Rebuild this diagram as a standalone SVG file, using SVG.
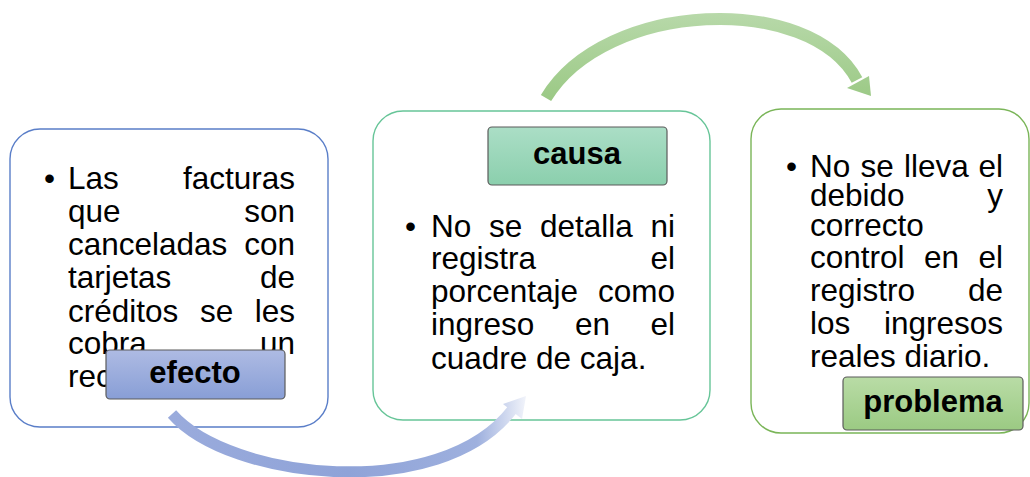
<svg xmlns="http://www.w3.org/2000/svg" width="1030" height="477" viewBox="0 0 1030 477">
<defs>
<linearGradient id="gBlue" x1="0" y1="0" x2="0" y2="1"><stop offset="0" stop-color="#aebbe3"/><stop offset="1" stop-color="#889ed6"/></linearGradient>
<linearGradient id="gTeal" x1="0" y1="0" x2="0" y2="1"><stop offset="0" stop-color="#abdec6"/><stop offset="1" stop-color="#8bcfad"/></linearGradient>
<linearGradient id="gGreen" x1="0" y1="0" x2="0" y2="1"><stop offset="0" stop-color="#b9dca6"/><stop offset="1" stop-color="#9bca83"/></linearGradient>
<linearGradient id="aGreen" gradientUnits="userSpaceOnUse" x1="0" y1="12" x2="0" y2="100"><stop offset="0" stop-color="#b8d9aa"/><stop offset="1" stop-color="#9bc985"/></linearGradient>
<linearGradient id="aBlue" gradientUnits="userSpaceOnUse" x1="170" y1="0" x2="527" y2="0"><stop offset="0" stop-color="#9aabdc"/><stop offset="0.5" stop-color="#8fa3d8"/><stop offset="0.86" stop-color="#9eb0de"/><stop offset="1" stop-color="#f3f5fb"/></linearGradient>
</defs>
<style>
.box{fill:#ffffff;stroke-width:1.4}
.t{font-family:"Liberation Sans",Arial,sans-serif;font-size:31.5px;fill:#000}
.e{text-anchor:end}
.lab{stroke:#5b5b5b;stroke-width:1.2}
.lt{font-family:"Liberation Sans",Arial,sans-serif;font-size:31px;font-weight:bold;fill:#000;text-anchor:middle}
</style>

<g id="efecto">
<rect class="box" x="10" y="129" width="318" height="298" rx="30" stroke="#5a7ec8"/>
<text class="t" x="44" y="189">•</text>
<text class="t" x="68" y="189">Las</text><text class="t e" x="295" y="189">facturas</text>
<text class="t" x="68" y="222">que</text><text class="t e" x="295" y="222">son</text>
<text class="t" x="68" y="254.5">canceladas</text><text class="t e" x="295" y="254.5">con</text>
<text class="t" x="68" y="288">tarjetas</text><text class="t e" x="295" y="288">de</text>
<text class="t" x="68" y="322">créditos</text><text class="t" x="200" y="322">se</text><text class="t e" x="295" y="322">les</text>
<text class="t" x="68" y="354">cobra</text><text class="t e" x="295" y="354">un</text>
<text class="t" x="68" y="387">rec</text>
<rect class="lab" x="106" y="350" width="179" height="49" rx="4" fill="url(#gBlue)"/>
<text class="lt" x="195" y="383">efecto</text>
</g>

<g id="causa">
<rect class="box" x="373" y="111" width="337" height="309" rx="30" stroke="#67c598"/>
<rect class="lab" x="488" y="127" width="179" height="58" rx="4" fill="url(#gTeal)"/>
<text class="lt" x="577" y="164">causa</text>
<text class="t" x="405" y="237">•</text>
<text class="t" x="431" y="237">No</text><text class="t" x="489" y="237">se</text><text class="t" x="540" y="237">detalla</text><text class="t e" x="675" y="237">ni</text>
<text class="t" x="431" y="268.5">registra</text><text class="t e" x="675" y="268.5">el</text>
<text class="t" x="431" y="302">porcentaje</text><text class="t e" x="675" y="302">como</text>
<text class="t" x="431" y="335">ingreso</text><text class="t" x="575" y="335">en</text><text class="t e" x="675" y="335">el</text>
<text class="t" x="431" y="368.5">cuadre de caja.</text>
</g>

<g id="problema">
<rect class="box" x="751" y="109" width="278" height="324" rx="30" stroke="#7ab558"/>
<text class="t" x="786" y="177">•</text>
<text class="t" x="810" y="177">No</text><text class="t" x="860.5" y="177">se</text><text class="t" x="904" y="177">lleva</text><text class="t e" x="1003" y="177">el</text>
<text class="t" x="810" y="206">debido</text><text class="t e" x="1003" y="206">y</text>
<text class="t" x="810" y="236">correcto</text>
<text class="t" x="810" y="268">control</text><text class="t" x="924" y="268">en</text><text class="t e" x="1003" y="268">el</text>
<text class="t" x="810" y="301">registro</text><text class="t e" x="1003" y="301">de</text>
<text class="t" x="810" y="334">los</text><text class="t e" x="1003" y="334">ingresos</text>
<text class="t" x="810" y="367">reales diario.</text>
<rect class="lab" x="843" y="377" width="180" height="53" rx="4" fill="url(#gGreen)"/>
<text class="lt" x="933" y="412">problema</text>
</g>

<g id="connectors">
<path d="M546,98 C605,0 810,-8 857,80" fill="none" stroke="url(#aGreen)" stroke-width="12"/>
<polygon points="847,88 869,76 871,96" fill="url(#aGreen)"/>
<path d="M172,414 C230,480 440,503 512,410" fill="none" stroke="url(#aBlue)" stroke-width="11"/>
<polygon points="503,404 522,419 526,396" fill="url(#aBlue)"/>
</g>
</svg>
